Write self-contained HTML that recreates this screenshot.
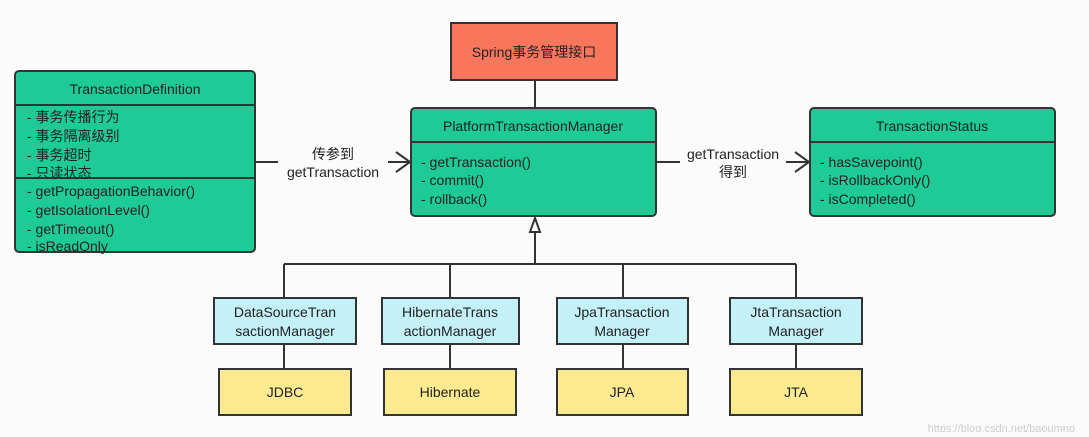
<!DOCTYPE html>
<html><head><meta charset="utf-8"><style>
body{margin:0;background:#fbfbfb;}
svg text{font-family:"Liberation Sans","Noto Sans CJK SC",sans-serif;fill:#222;}
</style></head><body>
<svg width="1089" height="432" viewBox="0 0 1089 432" xmlns="http://www.w3.org/2000/svg">
<rect width="1089" height="432" fill="#fbfbfb"/>
<g stroke="#333" stroke-width="2" fill="none">
<line x1="535" y1="80" x2="535" y2="108"/>
<line x1="535" y1="232" x2="535" y2="264"/>
<polygon points="535,218 530,232 540,232" fill="#fff"/>
<line x1="284" y1="264" x2="796" y2="264"/>
<line x1="284" y1="264" x2="284" y2="298"/>
<line x1="450" y1="264" x2="450" y2="298"/>
<line x1="623" y1="264" x2="623" y2="298"/>
<line x1="796" y1="264" x2="796" y2="298"/>
<line x1="284" y1="344" x2="284" y2="369"/>
<line x1="450" y1="344" x2="450" y2="369"/>
<line x1="623" y1="344" x2="623" y2="369"/>
<line x1="796" y1="344" x2="796" y2="369"/>
<line x1="255" y1="162" x2="278" y2="162"/>
<line x1="388" y1="162" x2="410" y2="162"/>
<polyline points="396,152 410,162 396,172"/>
<line x1="656" y1="162" x2="680" y2="162"/>
<line x1="786" y1="162" x2="809" y2="162"/>
<polyline points="795,152 809,162 795,172"/>
</g>
<rect x="451" y="23" width="166" height="57" fill="#f8765c" stroke="#333" stroke-width="2"/>
<text x="534" y="57" font-size="14" text-anchor="middle">Spring事务管理接口</text>

<rect x="15" y="71" width="240" height="181" rx="4" fill="#1ecb96" stroke="#333" stroke-width="2"/>
<line x1="15" y1="105" x2="255" y2="105" stroke="#333" stroke-width="2"/>
<line x1="15" y1="178" x2="255" y2="178" stroke="#333" stroke-width="2"/>
<text x="135" y="94" font-size="14" text-anchor="middle">TransactionDefinition</text>
<g font-size="14"><text x="27" y="122">- 事务传播行为</text><text x="27" y="141">- 事务隔离级别</text><text x="27" y="160">- 事务超时</text><text x="27" y="178">- 只读状态</text>
<text x="27" y="196">- getPropagationBehavior()</text><text x="27" y="215">- getIsolationLevel()</text><text x="27" y="234">- getTimeout()</text><text x="27" y="251">- isReadOnly</text></g>

<rect x="411" y="108" width="245" height="108" rx="4" fill="#1ecb96" stroke="#333" stroke-width="2"/>
<line x1="411" y1="142" x2="656" y2="142" stroke="#333" stroke-width="2"/>
<text x="533" y="131" font-size="14" text-anchor="middle">PlatformTransactionManager</text>
<g font-size="14"><text x="421" y="167">- getTransaction()</text><text x="421" y="185">- commit()</text><text x="421" y="204">- rollback()</text></g>

<rect x="810" y="108" width="245" height="108" rx="4" fill="#1ecb96" stroke="#333" stroke-width="2"/>
<line x1="810" y1="142" x2="1055" y2="142" stroke="#333" stroke-width="2"/>
<text x="932" y="131" font-size="14" text-anchor="middle">TransactionStatus</text>
<g font-size="14"><text x="820" y="167">- hasSavepoint()</text><text x="820" y="185">- isRollbackOnly()</text><text x="820" y="204">- isCompleted()</text></g>

<text x="333" y="159" font-size="14" text-anchor="middle">传参到</text>
<text x="333" y="177" font-size="14" text-anchor="middle">getTransaction</text>
<text x="733" y="159" font-size="14" text-anchor="middle">getTransaction</text>
<text x="733" y="177" font-size="14" text-anchor="middle">得到</text>

<g stroke="#333" stroke-width="2" fill="#c4f0f8">
<rect x="214" y="298" width="142" height="46"/><rect x="382" y="298" width="137" height="46"/>
<rect x="557" y="298" width="131" height="46"/><rect x="730" y="298" width="132" height="46"/>
</g>
<g font-size="14" text-anchor="middle">
<text x="285" y="317">DataSourceTran</text><text x="285" y="336">sactionManager</text>
<text x="450" y="317">HibernateTrans</text><text x="450" y="336">actionManager</text>
<text x="622" y="317">JpaTransaction</text><text x="622" y="336">Manager</text>
<text x="796" y="317">JtaTransaction</text><text x="796" y="336">Manager</text>
</g>
<g stroke="#333" stroke-width="2" fill="#fbea8f">
<rect x="219" y="369" width="132" height="46"/><rect x="384" y="369" width="132" height="46"/>
<rect x="557" y="369" width="131" height="46"/><rect x="730" y="369" width="132" height="46"/>
</g>
<g font-size="14" text-anchor="middle">
<text x="285" y="397">JDBC</text><text x="450" y="397">Hibernate</text><text x="622" y="397">JPA</text><text x="796" y="397">JTA</text>
</g>
<text x="1075" y="432" font-size="11" text-anchor="end" style="fill:#ccc">https://blog.csdn.net/baoumnp</text>
</svg>
</body></html>
